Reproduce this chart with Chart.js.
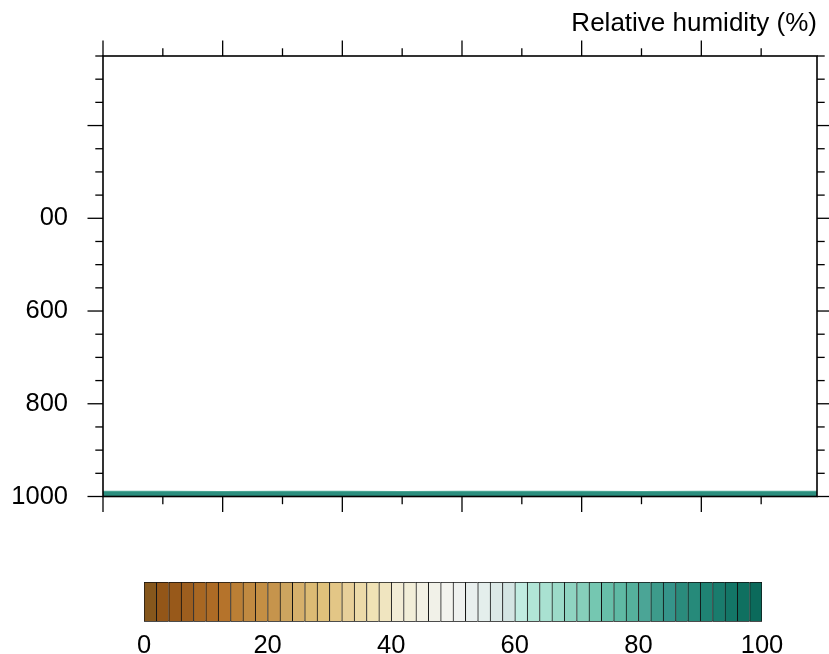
<!DOCTYPE html>
<html><head><meta charset="utf-8">
<script src="https://cdn.jsdelivr.net/npm/chart.js@4.4.0/dist/chart.umd.min.js"></script>
<style>
html,body{margin:0;padding:0;background:#fff;overflow:hidden}
#wrap{position:relative;width:829px;height:654px;background:#fff}
#main{position:absolute;left:0;top:0}
#bar{position:absolute;left:0;top:540px}
</style></head><body>
<div id="wrap">
<canvas id="main" width="829" height="540"></canvas>
<canvas id="bar" width="829" height="114"></canvas>
</div>
<script>
// ---------------- data ----------------
const titleText = 'Relative humidity (%)';
const timeHours = [0, 6, 12, 18, 24, 30, 36, 42, 48, 54, 60, 66, 71.6];
// pressure (hPa) of the top of the filled near-surface layer
const bandTopLight = [987.8, 987.8, 987.9, 987.7, 987.8, 987.9, 987.8, 987.7, 987.8, 987.9, 987.8, 987.8, 987.8];
const bandTopDark  = [989.6, 989.7, 989.6, 989.6, 989.7, 989.6, 989.6, 989.7, 989.6, 989.6, 989.7, 989.6, 989.6];
const bandColorLight = '#55ab9b';
const bandColorDark = '#2b8e7e';
const xMin = 0, xMax = 71.6, xMajorStep = 12, xMinorStep = 6;
const yTop = 50, yBottom = 1000, yMajorStep = 200, yMinorStep = 50;
const yTickValues = [200, 400, 600, 800, 1000];
const yTickLabels = ['', '00', '600', '800', '1000'];
// colour bar: 50 boxes of 2 % each
const cbTickValues = [0, 20, 40, 60, 80, 100];
const cbColors = [
  '#86571c','#935618','#98591a','#9d5e1e','#a86722','#ad6b25','#b5732b','#bb7f35','#c18a41','#c48f44',
  '#c6944c','#cda55f','#d6b06b','#dcbb74','#dfc17b','#e3c686','#e8d09a','#ecdaa9','#f0e2b5','#f0e5c0',
  '#f2ecd5','#f2eed8','#f3f1e4','#f1f1e8','#f3f3ee','#eff1ef','#e9efee','#e4eeec','#dce9e7','#d4e5e3',
  '#c1ece1','#b1e5d6','#a9e1d1','#9cdbc9','#8fd4c1','#86cfbb','#75c7b1','#67bfa9','#5fb9a4','#55b09c',
  '#4ba596','#3d9b8b','#35948a','#2a8b7c','#268a7a','#1f8373','#197c6d','#137667','#0f7060','#0b6a5b'
];
// ---------------------------------------

const FONT = 'Liberation Sans, Arial, Helvetica, sans-serif';

const framePlugin = {
  id: 'frame',
  afterDraw(chart) {
    const {ctx, chartArea: a, scales: {x, y}} = chart;
    ctx.save();
    ctx.strokeStyle = '#000';
    ctx.lineWidth = 1.6;
    ctx.lineCap = 'butt';
    ctx.strokeRect(a.left, a.top, a.right - a.left, a.bottom - a.top);
    const line = (x1, y1, x2, y2) => { ctx.beginPath(); ctx.moveTo(x1, y1); ctx.lineTo(x2, y2); ctx.stroke(); };
    ctx.lineWidth = 1.3;
    for (let t = xMin; t <= xMax + 1e-9; t += xMinorStep) {
      const px = x.getPixelForValue(t);
      const major = Math.abs(t % xMajorStep) < 1e-6;
      const L = major ? 15.5 : 7.7;
      line(px, a.bottom, px, a.bottom + L);
      line(px, a.top, px, a.top - L);
    }
    for (let p = yBottom; p >= yTop - 1e-9; p -= yMinorStep) {
      const py = y.getPixelForValue(p);
      const major = Math.abs(p % yMajorStep) < 1e-6;
      const L = major ? 15.5 : 7.7;
      line(a.left - L, py, a.left, py);
      line(a.right, py, a.right + L, py);
    }
    ctx.restore();
  }
};

new Chart(document.getElementById('main'), {
  type: 'line',
  data: {
    datasets: [
      { data: timeHours.map((t, i) => ({x: t, y: bandTopDark[i]})), fill: {value: yBottom},
        backgroundColor: bandColorDark, borderWidth: 0, pointRadius: 0, tension: 0, order: 0 },
      { data: timeHours.map((t, i) => ({x: t, y: bandTopLight[i]})), fill: {value: yBottom},
        backgroundColor: bandColorLight, borderWidth: 0, pointRadius: 0, tension: 0, order: 1 }
    ]
  },
  options: {
    responsive: false, animation: false, devicePixelRatio: 1,
    layout: {padding: {left: 0, right: 12, top: 0, bottom: 0}},
    plugins: {
      legend: {display: false}, tooltip: {enabled: false},
      title: {display: true, text: titleText, align: 'end', color: '#000',
        font: {family: FONT, size: 26, weight: 'normal', lineHeight: 1.2},
        padding: {top: 8, bottom: 16.8}}
    },
    scales: {
      x: {type: 'linear', min: xMin, max: xMax, position: 'bottom', offset: false,
        afterFit: s => { s.height = 43.5; },
        grid: {display: false, drawTicks: false}, border: {display: false},
        ticks: {display: false}},
      y: {type: 'linear', reverse: true, min: yTop, max: yBottom, position: 'left',
        afterFit: s => { s.width = 103; s.paddingTop = 0; s.paddingBottom = 0; },
        afterBuildTicks: s => { s.ticks = yTickValues.map(v => ({value: v})); },
        grid: {display: false, drawTicks: false}, border: {display: false},
        ticks: {padding: 35, color: '#000', font: {family: FONT, size: 25.5},
          callback: v => { const i = yTickValues.indexOf(v); return i >= 0 ? yTickLabels[i] : ''; }}
      }
    }
  },
  plugins: [framePlugin]
});

const lastBox = cbColors.length - 1;
new Chart(document.getElementById('bar'), {
  type: 'bar',
  data: {
    labels: cbColors.map((c, i) => i),
    datasets: [{
      data: cbColors.map(() => 1),
      backgroundColor: cbColors,
      borderColor: '#111',
      borderWidth: ctx => ctx.dataIndex === lastBox ? 1 : {left: 1, top: 1, bottom: 1, right: 0},
      borderSkipped: false,
      barPercentage: 1, categoryPercentage: 1
    }]
  },
  options: {
    responsive: false, animation: false, devicePixelRatio: 1,
    layout: {padding: {left: 144, right: 67, top: 42, bottom: 0}},
    plugins: {legend: {display: false}, tooltip: {enabled: false}},
    scales: {
      x: {display: false, offset: true},
      y: {display: false, min: 0, max: 1},
      xl: {type: 'linear', position: 'bottom', min: 0, max: 100, offset: false,
        afterFit: s => { s.height = 32.3; s.paddingLeft = 0; s.paddingRight = 0; },
        afterBuildTicks: s => { s.ticks = cbTickValues.map(v => ({value: v})); },
        grid: {display: false, drawTicks: false, offset: false}, border: {display: false},
        ticks: {padding: 9, color: '#000', font: {family: FONT, size: 25.5}, maxRotation: 0, autoSkip: false}
      }
    }
  }
});
</script>
</body></html>
